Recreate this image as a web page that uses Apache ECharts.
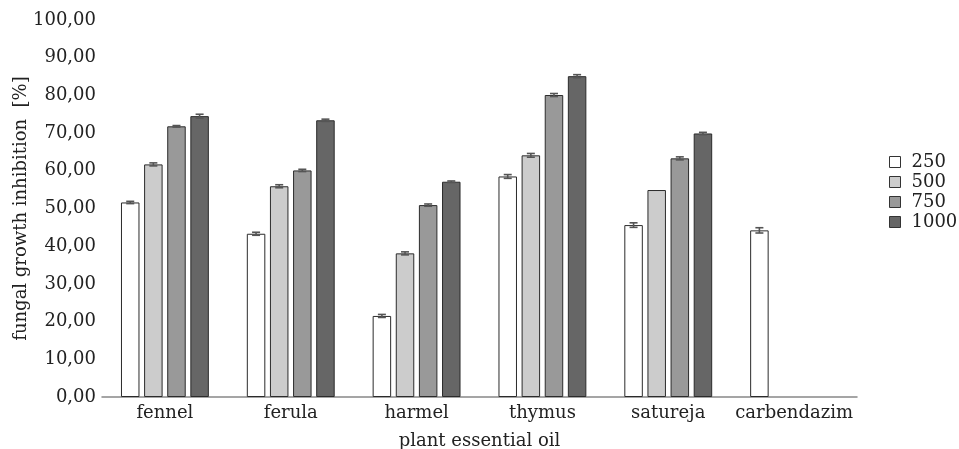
<!DOCTYPE html>
<html>
<head>
<meta charset="utf-8">
<script src="https://cdn.jsdelivr.net/npm/echarts@6/dist/echarts.min.js"></script>
<style>
  html, body { margin: 0; padding: 0; background: #fff; }
  #chart { width: 959px; height: 449px; }
</style>
</head>
<body>
<div id="chart"></div>
<script>
// plant essential oils on the x axis
const categories = ['fennel', 'ferula', 'harmel', 'thymus', 'satureja', 'carbendazim'];
// concentrations (legend)
const doses = ['250', '500', '750', '1000'];

// mean inhibition [%] per dose
const v250 = [51.6, 43.3, 21.5, 58.5, 45.6, 44.2];
const v500 = [61.7, 55.9, 38.1, 64.1, 54.9, '-'];
const v750 = [71.8, 60.1, 50.9, 80.1, 63.3, '-'];
const v1000 = [74.5, 73.4, 57.1, 85.1, 69.9, '-'];

// standard error
const e250 = [0.3, 0.4, 0.4, 0.5, 0.6, 0.7];
const e500 = [0.4, 0.4, 0.4, 0.5, 0, 0];
const e750 = [0.2, 0.3, 0.3, 0.4, 0.4, 0];
const e1000 = [0.5, 0.3, 0.2, 0.4, 0.3, 0];

const yTicks = ['0,00', '10,00', '20,00', '30,00', '40,00', '50,00', '60,00', '70,00', '80,00', '90,00', '100,00'];

const values = [v250, v500, v750, v1000];
const errors = [e250, e500, e750, e1000];
const fills = ['#ffffff', '#cccccc', '#999999', '#666666'];

const FONT = 'DejaVu Serif';
const BAR_W = 18.5;
const BAR_GAP = 0.25;

const chart = echarts.init(document.getElementById('chart'));

// bar series
const barSeries = doses.map((d, i) => ({
  name: d,
  type: 'bar',
  data: values[i],
  barWidth: BAR_W,
  barGap: BAR_GAP * 100 + '%',
  itemStyle: {
    color: fills[i],
    borderColor: '#2b2b2b',
    borderWidth: 1,
  },
  z: 2,
}));

// error bars drawn on top, offset to match the grouped bar position
const errorSeries = doses.map((d, i) => {
  const total = doses.length * BAR_W + (doses.length - 1) * BAR_W * BAR_GAP;
  const offset = -total / 2 + BAR_W / 2 + i * BAR_W * (1 + BAR_GAP);
  const data = [];
  values[i].forEach((v, k) => {
    if (v !== '-' && errors[i][k] > 0) {
      data.push([k, v - errors[i][k], v + errors[i][k]]);
    }
  });
  return {
    type: 'custom',
    name: 'err' + d,
    silent: true,
    z: 5,
    data: data,
    renderItem: (params, api) => {
      const lo = api.coord([api.value(0), api.value(1)]);
      const hi = api.coord([api.value(0), api.value(2)]);
      const x = lo[0] + offset;
      const cap = 4;
      const style = { stroke: '#555', lineWidth: 1.6 };
      return {
        type: 'group',
        children: [
          { type: 'line', shape: { x1: x, y1: lo[1], x2: x, y2: hi[1] }, style: style },
          { type: 'line', shape: { x1: x - cap, y1: lo[1], x2: x + cap, y2: lo[1] }, style: style },
          { type: 'line', shape: { x1: x - cap, y1: hi[1], x2: x + cap, y2: hi[1] }, style: style },
        ],
      };
    },
  };
});

const option = {
  animation: false,
  backgroundColor: '#fff',
  textStyle: { fontFamily: FONT },
  grid: {
    left: 102,
    right: 102,
    top: 20,
    bottom: 52,
    containLabel: false,
    outerBoundsMode: 'none',
  },
  legend: {
    data: doses,
    orient: 'vertical',
    left: 884,
    top: 148,
    itemWidth: 11,
    itemHeight: 11,
    itemGap: 2,
    icon: 'rect',
    itemStyle: { borderColor: '#333', borderWidth: 1 },
    textStyle: { fontFamily: FONT, fontSize: 18, lineHeight: 18, color: '#222', padding: [0, 0, 0, 6] },
  },
  xAxis: {
    type: 'category',
    data: categories,
    name: 'plant essential oil',
    nameLocation: 'middle',
    nameGap: 35,
    nameMoveOverlap: false,
    nameTextStyle: { fontFamily: FONT, fontSize: 18, color: '#222' },
    axisLine: { lineStyle: { color: '#888', width: 1.5 } },
    axisTick: { show: false },
    axisLabel: { interval: 0, fontFamily: FONT, fontSize: 18, color: '#222', margin: 7 },
  },
  yAxis: {
    type: 'value',
    min: 0,
    max: 100,
    interval: 10,
    name: 'fungal growth inhibition  [%]',
    nameLocation: 'middle',
    nameGap: 72,
    nameMoveOverlap: false,
    nameTextStyle: { fontFamily: FONT, fontSize: 18, color: '#222' },
    axisLine: { show: false },
    axisTick: { show: false },
    splitLine: { show: false },
    axisLabel: {
      fontFamily: FONT,
      fontSize: 18,
      color: '#222',
      margin: 6,
      formatter: (v) => yTicks[Math.round(v / 10)],
    },
  },
  series: [...barSeries, ...errorSeries],
};

chart.setOption(option);
</script>
</body>
</html>
